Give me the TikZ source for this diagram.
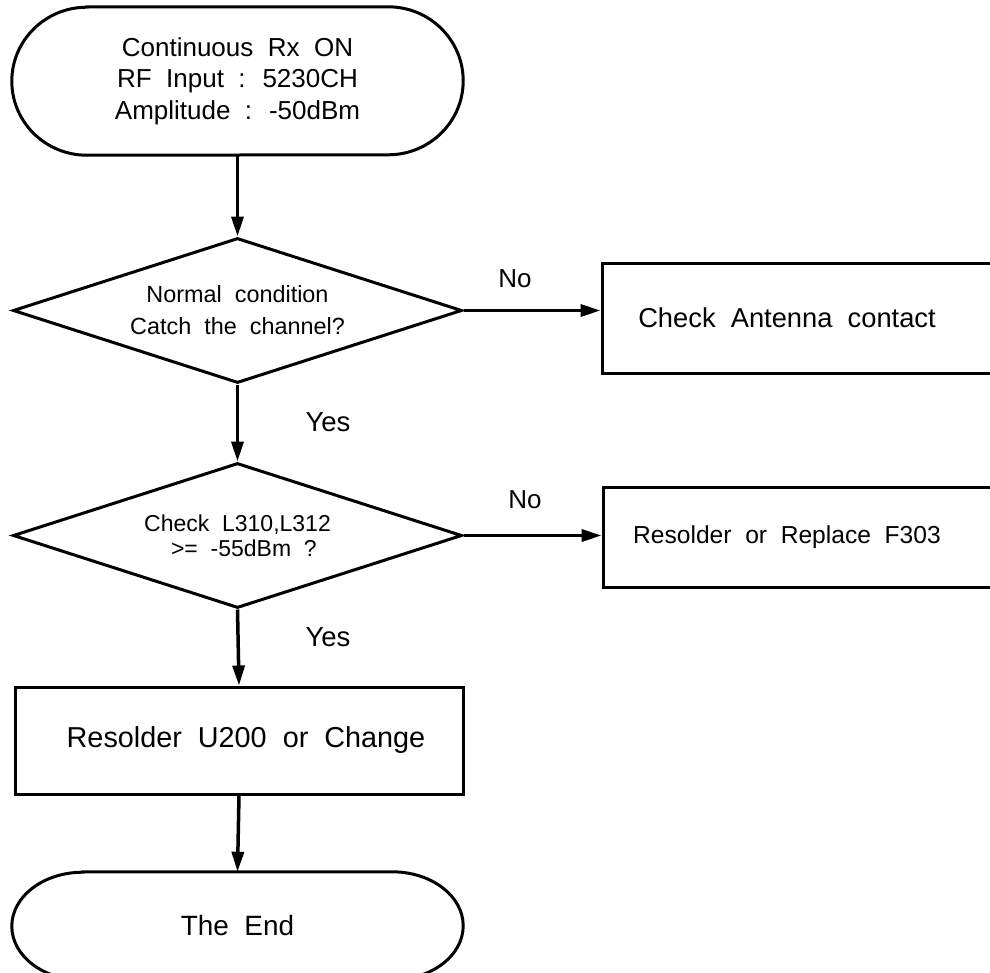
\documentclass[tikz,border=0pt]{standalone}
\usepackage{fontspec}
\setmainfont{Liberation Sans}[WordSpace=2]
\usetikzlibrary{arrows.meta,shapes.geometric}
\begin{document}
\begin{tikzpicture}[x=1pt,y=-1pt,
  outline/.style={line width=3pt, line join=miter},
  conn/.style={line width=3.5pt, -{Triangle[length=20pt,width=12pt]}},
  termnode/.style={inner sep=0pt, minimum width=451pt, align=center},
  decision/.style={diamond, draw, line width=3pt, inner sep=0pt, shape aspect=3.1,
                   minimum width=449pt, minimum height=145pt, align=center},
  procbox/.style={rectangle, draw, line width=3pt, inner sep=0pt, align=center},
  lbl/.style={inner sep=0pt, font=\fontsize{27.5}{30}\selectfont}
]
\useasboundingbox (0,0) rectangle (990,972);

% nodes
\node[termnode, minimum height=148pt, font=\fontsize{26}{31.5}\selectfont] (start) at (237.5,81)
  {Continuous Rx ON\\RF Input : 5230CH\\Amplitude : -50dBm};
\node[decision, font=\fontsize{23.4}{32}\selectfont] (d1) at (237.5,310.5)
  {Normal condition\\Catch the channel?};
\node[decision, font=\fontsize{23}{25}\selectfont] (d2) at (237.5,535.5)
  {Check L310,L312\\ \ >= -55dBm ?};
\node[procbox, minimum width=448pt, minimum height=110pt, font=\fontsize{27.3}{30}\selectfont] (b1) at (826,318)
  {Check Antenna contact\hspace*{78pt}};
\node[procbox, minimum width=447pt, minimum height=100pt, font=\fontsize{24.6}{28}\selectfont] (b2) at (826.5,537)
  {Resolder or Replace F303\hspace*{79pt}};
\node[procbox, minimum width=448pt, minimum height=107pt, font=\fontsize{28.8}{32}\selectfont] (b3) at (239,740.5)
  {\hspace*{14pt}Resolder U200 or Change};
\node[termnode, minimum height=108pt, font=\fontsize{27.9}{32}\selectfont] (end) at (237.5,926)
  {The End};

% terminator outlines
\draw[outline] ([xshift=75pt]start.north west) -- ([xshift=-75pt]start.north east)
  arc[start angle=90,end angle=-90,x radius=75pt,y radius=74pt]
  -- ([xshift=75pt]start.south west)
  arc[start angle=270,end angle=90,x radius=75pt,y radius=74pt] -- cycle;
\draw[outline] ([xshift=71pt]end.north west) -- ([xshift=-71pt]end.north east)
  arc[start angle=90,end angle=-90,x radius=71pt,y radius=54pt]
  -- ([xshift=71pt]end.south west)
  arc[start angle=270,end angle=90,x radius=71pt,y radius=54pt] -- cycle;

% labels
\node[lbl, font=\fontsize{26}{30}\selectfont] (no1) at (515,279) {No};
\node[lbl, font=\fontsize{26}{30}\selectfont] (no2) at (525,500) {No};
\node[lbl] (yes1) at (328,422) {Yes};
\node[lbl] (yes2) at (328,637) {Yes};

% connectors
\draw[conn] (start.south) -- (d1.north);
\draw[conn] (d1.south) -- (d2.north);
\draw[conn] (d2.south) -- (b3.north);
\draw[conn] (b3.south) -- (end.north);
\draw[conn] (d1.east) -- (d1.east -| b1.west);
\draw[conn] (d2.east) -- (d2.east -| b2.west);
\end{tikzpicture}
\end{document}
